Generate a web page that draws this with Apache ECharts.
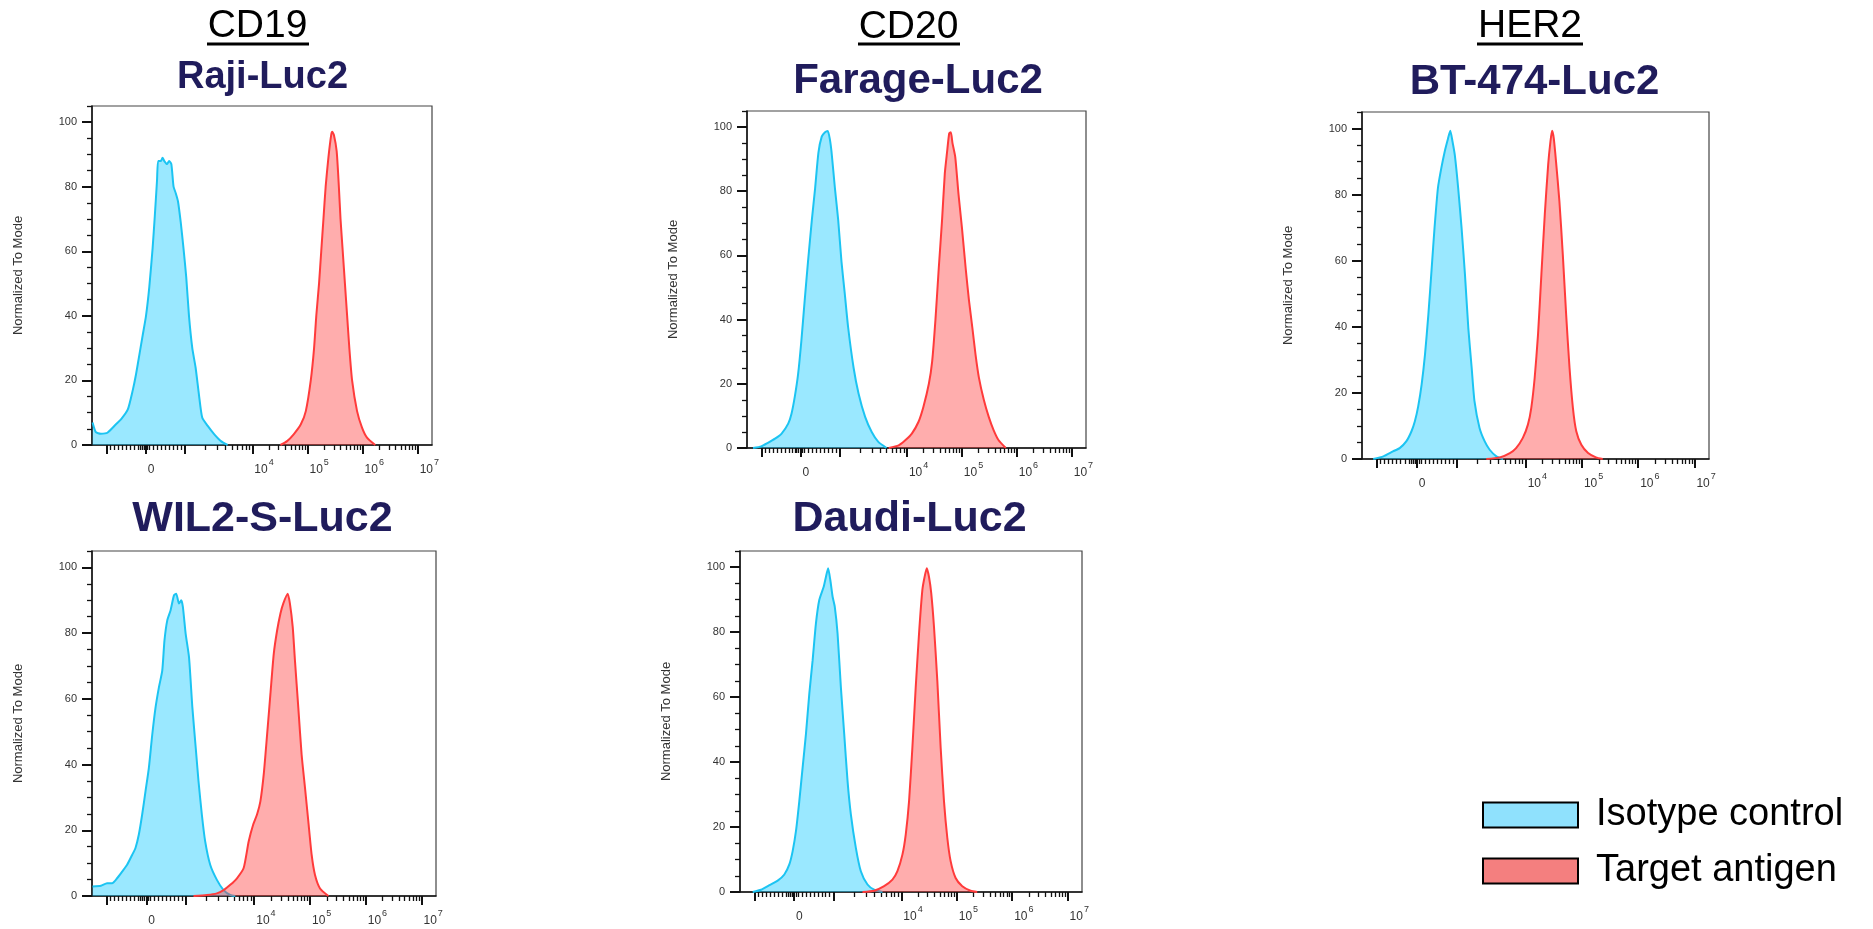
<!DOCTYPE html>
<html>
<head>
<meta charset="utf-8">
<script src="https://cdn.jsdelivr.net/npm/echarts@6.0.0/dist/echarts.min.js"></script>
<style>
html, body { margin: 0; padding: 0; background: #fff; }
#chart { width: 1873px; height: 929px; }
</style>
</head>
<body>
<div id="chart"></div>
<script>
// x = position on the biexponential display scale (one unit per decade, 4 = 10^4)
// y = % of mode
var targetNames = ['CD19', 'CD20', 'HER2']
var cellNames = ['Raji-Luc2', 'Farage-Luc2', 'BT-474-Luc2', 'WIL2-S-Luc2', 'Daudi-Luc2']
var seriesNames = ['Isotype control', 'Target antigen']

var rajiIso = [[1.10,7],[1.16,4],[1.25,3.5],[1.37,3.8],[1.53,6.5],[1.62,8],[1.74,11],[1.83,17],[1.89,22],[1.95,28],[2.01,34],[2.07,40],[2.13,49],[2.19,61],[2.23,71],[2.27,82],[2.29,88],[2.34,88],[2.37,89],[2.40,88],[2.45,87],[2.49,88],[2.53,87],[2.57,80],[2.61,78],[2.65,75.5],[2.70,69],[2.75,61],[2.80,52],[2.85,40],[2.91,30],[2.97,24],[3.03,15.7],[3.09,8.5],[3.19,5.9],[3.31,3.3],[3.43,1.2],[3.55,0]]
var rajiTarget = [[4.51,0],[4.63,1.2],[4.75,3.3],[4.88,6.4],[4.97,10.5],[5.06,20],[5.12,30],[5.16,40],[5.21,50],[5.25,60],[5.29,70],[5.33,80],[5.38,89],[5.43,96],[5.45,97],[5.48,96],[5.53,91],[5.57,80],[5.60,70],[5.64,60],[5.68,50],[5.72,40],[5.76,30],[5.81,20],[5.90,10.5],[5.99,5.4],[6.08,2.3],[6.23,0]]

var farageIso = [[1.20,0],[1.35,0.5],[1.47,1.6],[1.60,2.9],[1.72,4.5],[1.84,7.6],[1.90,10.7],[1.96,16],[2.02,23],[2.08,33.5],[2.14,46],[2.20,58],[2.27,71],[2.33,81],[2.39,92],[2.45,97],[2.51,98.4],[2.56,98.8],[2.60,96],[2.63,92],[2.69,81],[2.75,71],[2.81,58],[2.87,48],[2.93,37.7],[3.03,25],[3.12,17],[3.24,9.7],[3.36,5],[3.48,1.9],[3.63,0]]
var farageTarget = [[3.67,0],[3.85,0.8],[3.97,2.4],[4.09,4.5],[4.21,8.1],[4.30,12.8],[4.40,20],[4.46,27],[4.52,40],[4.58,56],[4.64,71],[4.69,85.5],[4.73,92],[4.77,98],[4.80,98.4],[4.83,95],[4.88,90.7],[4.94,79],[5.00,69],[5.07,56],[5.13,46],[5.19,37.7],[5.25,29],[5.31,22],[5.40,15],[5.49,9.7],[5.58,5.5],[5.67,2.4],[5.80,0]]

var bt474Iso = [[1.29,0],[1.47,0.8],[1.64,2.3],[1.76,3.3],[1.88,5.4],[1.97,8.4],[2.03,11.4],[2.09,16],[2.15,22.5],[2.21,31.6],[2.27,43.7],[2.33,58],[2.38,70],[2.44,82],[2.50,88],[2.56,93],[2.62,97],[2.66,99.3],[2.70,96],[2.74,92],[2.80,82],[2.86,70],[2.92,56],[2.98,39.7],[3.04,27.6],[3.09,17.5],[3.18,9.4],[3.27,5.4],[3.36,2.8],[3.48,0.8],[3.60,0]]
var bt474Target = [[3.30,0],[3.54,0.5],[3.72,1.8],[3.83,3.3],[3.95,6.4],[4.04,10.4],[4.10,15.5],[4.16,24.5],[4.22,37.7],[4.28,56],[4.34,74],[4.40,89],[4.44,96],[4.47,99.3],[4.50,97],[4.54,90],[4.60,78],[4.66,62],[4.72,43.7],[4.78,27.6],[4.84,15.5],[4.90,8.4],[4.99,4.3],[5.11,1.8],[5.25,0.5],[5.37,0]]

var wil2Iso = [[1.10,2.9],[1.25,3.1],[1.36,3.9],[1.45,3.9],[1.54,5.4],[1.63,7.4],[1.72,9.5],[1.81,12.5],[1.87,14.6],[1.93,18.7],[1.99,24.8],[2.05,31.9],[2.11,39],[2.17,49],[2.23,57.4],[2.29,63.5],[2.35,68.6],[2.39,77.8],[2.44,83.9],[2.50,87],[2.56,91.5],[2.60,92],[2.65,89],[2.69,90],[2.72,88],[2.77,79.8],[2.83,72.7],[2.89,57.4],[2.95,45.2],[3.00,35],[3.06,24.8],[3.12,16.6],[3.21,9.5],[3.33,4.9],[3.45,1.8],[3.57,0.3],[3.66,0]]
var wil2Target = [[2.91,0],[3.15,0.3],[3.33,0.8],[3.45,1.8],[3.57,3.4],[3.69,5.4],[3.81,8.5],[3.90,16.6],[3.98,21.7],[4.05,24.8],[4.11,28.8],[4.17,37],[4.23,49],[4.29,61.5],[4.35,73.7],[4.41,80.8],[4.47,86],[4.52,89],[4.60,92],[4.64,89],[4.69,81.9],[4.73,71.7],[4.79,57.4],[4.85,43],[4.91,33],[4.97,22.7],[5.03,12.5],[5.09,6.4],[5.18,2.3],[5.33,0]]

var daudiIso = [[1.32,0],[1.47,0.7],[1.62,2.1],[1.77,3.5],[1.89,5.4],[1.98,8.5],[2.04,12.6],[2.10,18.8],[2.16,28],[2.22,38.4],[2.28,48.7],[2.34,61],[2.40,71.3],[2.46,82.7],[2.52,89.9],[2.60,94],[2.64,97],[2.68,99.7],[2.72,96],[2.76,91],[2.80,87.8],[2.85,79.6],[2.91,63],[2.97,48.7],[3.03,34.2],[3.09,23.9],[3.18,13.6],[3.27,6.4],[3.39,2.3],[3.51,0.7],[3.66,0]]
var daudiTarget = [[3.30,0],[3.51,0.4],[3.69,1.8],[3.84,3.8],[3.93,6.4],[4.02,11.5],[4.08,17.7],[4.14,28],[4.20,44.5],[4.26,63],[4.32,79.6],[4.38,93],[4.42,97],[4.46,99.7],[4.50,97],[4.54,92],[4.59,81.6],[4.65,65],[4.71,44.5],[4.77,28],[4.83,16.7],[4.89,9.5],[4.98,4.3],[5.10,1.8],[5.25,0.4],[5.37,0]]

// axis ticks: -10^3, 0, 10^3, 10^4 ... 10^7
var xMajorPos = [1.35, 2.065, 2.78, 4, 5, 6, 7]
var xLabelPos = [2.065, 4, 5, 6, 7]
var xLabelExp = ['', '4', '5', '6', '7']
var yMajor = [0, 20, 40, 60, 80, 100]
var yMinor = [5, 10, 15, 25, 30, 35, 45, 50, 55, 65, 70, 75, 85, 90, 95, 105]

var panelData = [
  [rajiIso, rajiTarget],
  [farageIso, farageTarget],
  [bt474Iso, bt474Target],
  [wil2Iso, wil2Target],
  [daudiIso, daudiTarget]
]

// layout
var grids = [
  {left: 92, top: 106, width: 340, height: 339},
  {left: 747, top: 111, width: 339, height: 337},
  {left: 1362, top: 112, width: 347, height: 347},
  {left: 92, top: 551, width: 344, height: 345},
  {left: 740, top: 551, width: 342, height: 341}
]
var xMin = 1.09, xMax = 7.26

var font = 'Liberation Sans, Arial, sans-serif'
var lineColors = ['#1cc4f2', '#ff3b3b']
var fillColors = ['rgba(30,205,255,0.45)', 'rgba(255,60,60,0.42)']
var tickColor = '#111'

// minor ticks on the biex axis
function xMinorTicks () {
  var out = []
  var zero = 2.065, half = 0.715
  for (var k = 1; k < 10; k++) {
    out.push(zero - half * k / 10, zero + half * k / 10)
  }
  ;[-3, -2, -1, 1].forEach(function (k) { out.push(zero + k * 0.035) })
  for (var k = 2; k < 10; k++) out.push(2.78 + Math.log10(k) * 1.22)
  for (var d = 4; d < 7; d++) {
    for (var k = 2; k < 10; k++) out.push(d + Math.log10(k))
  }
  return out
}
var xMinorPos = xMinorTicks()

function nearest (arr, v) {
  var best = 0
  for (var i = 1; i < arr.length; i++) {
    if (Math.abs(arr[i] - v) < Math.abs(arr[best] - v)) best = i
  }
  return best
}

var option = {
  animation: false,
  backgroundColor: '#fff',
  grid: [],
  xAxis: [],
  yAxis: [],
  series: [],
  legend: {
    orient: 'vertical',
    left: 1482,
    top: 796,
    padding: 0,
    itemWidth: 95,
    itemHeight: 25,
    itemGap: 18,
    icon: 'rect',
    selectedMode: false,
    textStyle: {fontSize: 38, color: '#000', fontFamily: font, padding: [0, 0, 0, 13]},
    data: [
      {name: seriesNames[0], itemStyle: {color: '#8fe1fd', borderColor: '#000', borderWidth: 2}},
      {name: seriesNames[1], itemStyle: {color: '#f47f7f', borderColor: '#000', borderWidth: 2}}
    ]
  },
  graphic: []
}

grids.forEach(function (g, i) {
  option.grid.push({
    left: g.left, top: g.top, width: g.width, height: g.height,
    show: true, borderColor: '#444', borderWidth: 1.2, containLabel: false
  })
  // main x axis
  option.xAxis.push({
    type: 'value', gridIndex: i, min: xMin, max: xMax, position: 'bottom',
    axisLine: {show: true, onZero: false, lineStyle: {color: tickColor, width: 1.5}},
    axisTick: {show: true, customValues: xMajorPos, length: 9, lineStyle: {color: tickColor, width: 2}},
    axisLabel: {
      customValues: xLabelPos,
      margin: 13,
      align: 'left',
      padding: [0, 0, 0, 2],
      formatter: function (v) {
        var e = xLabelExp[nearest(xLabelPos, v)]
        return e ? '{b|10}{s|' + e + '}' : '{b|0}'
      },
      rich: {
        b: {fontSize: 12, color: '#333', fontFamily: font, lineHeight: 18, verticalAlign: 'bottom'},
        s: {fontSize: 9, color: '#333', fontFamily: font, lineHeight: 18, verticalAlign: 'top', padding: [0, 0, 0, 1]}
      }
    },
    splitLine: {show: false}
  })
  // minor x ticks
  option.xAxis.push({
    type: 'value', gridIndex: i, min: xMin, max: xMax, position: 'bottom',
    axisLine: {show: false},
    axisTick: {show: true, customValues: xMinorPos, length: 5, lineStyle: {color: tickColor, width: 1.3}},
    axisLabel: {show: false},
    splitLine: {show: false}
  })
  option.yAxis.push({
    type: 'value', gridIndex: i, min: 0, max: 105, position: 'left',
    name: 'Normalized To Mode', nameLocation: 'middle', nameRotate: 90, nameGap: 67,
    nameTextStyle: {fontSize: 13, color: '#333', fontFamily: font},
    axisLine: {show: true, lineStyle: {color: tickColor, width: 1.5}},
    axisTick: {show: true, customValues: yMajor, length: 10, lineStyle: {color: tickColor, width: 2}},
    axisLabel: {customValues: yMajor, fontSize: 11, color: '#333', fontFamily: font, margin: 15},
    splitLine: {show: false}
  })
  option.yAxis.push({
    type: 'value', gridIndex: i, min: 0, max: 105, position: 'left',
    axisLine: {show: false},
    axisTick: {show: true, customValues: yMinor, length: 5, lineStyle: {color: tickColor, width: 1.3}},
    axisLabel: {show: false},
    splitLine: {show: false}
  })
  panelData[i].forEach(function (d, k) {
    option.series.push({
      type: 'line',
      name: seriesNames[k],
      xAxisIndex: i * 2,
      yAxisIndex: i * 2,
      data: d,
      symbol: 'none',
      smooth: 0.2,
      clip: true,
      lineStyle: {color: lineColors[k], width: 2},
      itemStyle: {color: lineColors[k]},
      areaStyle: {color: fillColors[k], opacity: 1},
      z: 2 + k
    })
  })
})

// headers and panel titles
var headers = [
  {x: 257.5, y: 26, line: [207, 309]},
  {x: 908.5, y: 27, line: [858, 960]},
  {x: 1530, y: 26, line: [1477, 1583]}
]
headers.forEach(function (h, i) {
  option.graphic.push({
    type: 'text', x: h.x, y: h.y,
    style: {text: targetNames[i], fontSize: 39, fontFamily: font, fill: '#000', align: 'center', verticalAlign: 'middle'}
  })
  option.graphic.push({
    type: 'line', shape: {x1: h.line[0], y1: 44, x2: h.line[1], y2: 44},
    style: {stroke: '#000', lineWidth: 3}
  })
})
var titlePos = [
  {x: 262.5, y: 78, size: 38},
  {x: 918, y: 81.5, size: 42},
  {x: 1534.5, y: 82, size: 42},
  {x: 262.5, y: 519.5, size: 43},
  {x: 909.5, y: 519.5, size: 43}
]
titlePos.forEach(function (t, i) {
  option.graphic.push({
    type: 'text', x: t.x, y: t.y,
    style: {text: cellNames[i], fontSize: t.size, fontWeight: 'bold', fontFamily: font, fill: '#201c5c', align: 'center', verticalAlign: 'middle'}
  })
})

var chart = echarts.init(document.getElementById('chart'), null, {renderer: 'canvas'})
chart.setOption(option)
</script>
</body>
</html>
